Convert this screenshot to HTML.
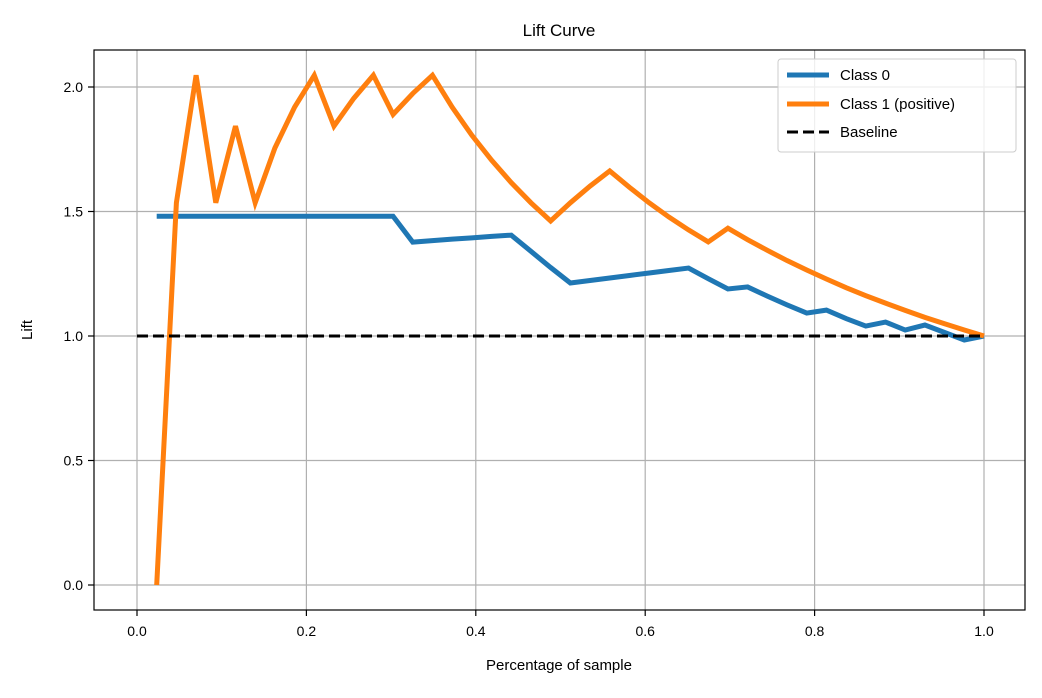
<!DOCTYPE html>
<html><head><meta charset="utf-8"><style>
body{margin:0;background:#fff;}
svg{font-family:"Liberation Sans","DejaVu Sans",sans-serif;}
</style></head><body>
<svg id="chart" width="1042" height="693" viewBox="0 0 1042 693">
<g id="grid"></g>
<g id="series"></g>
<rect x="94" y="50" width="931" height="560" fill="none" stroke="#000" stroke-width="1.2"/>
<g id="ticks"></g>
<text x="559" y="36" text-anchor="middle" font-size="17">Lift Curve</text>
<text x="559" y="670" text-anchor="middle" font-size="15">Percentage of sample</text>
<text x="32" y="330" text-anchor="middle" font-size="15" transform="rotate(-90 32 330)">Lift</text>
<g>
<rect x="778" y="59" width="238" height="93" rx="3" fill="#fff" fill-opacity="0.8" stroke="#ccc"/>
<line x1="787" y1="75" x2="829" y2="75" stroke="#1f77b4" stroke-width="5"/>
<text x="840" y="80" font-size="15">Class 0</text>
<line x1="787" y1="104" x2="829" y2="104" stroke="#ff7f0e" stroke-width="5"/>
<text x="840" y="109" font-size="15">Class 1 (positive)</text>
<line x1="787" y1="132" x2="829" y2="132" stroke="#000" stroke-width="3" stroke-dasharray="11,5"/>
<text x="840" y="137" font-size="15">Baseline</text>
</g>
</svg>
<script>
const xTicks=[0,0.2,0.4,0.6,0.8,1.0];
const xTickLabels=["0.0","0.2","0.4","0.6","0.8","1.0"];
const yTicks=[0,0.5,1.0,1.5,2.0];
const yTickLabels=["0.0","0.5","1.0","1.5","2.0"];
const nPoints=43;
const class1=[0,1.535,2.047,1.535,1.843,1.535,1.755,1.919,2.047,1.843,1.954,2.047,1.89,1.974,2.047,1.919,1.806,1.706,1.616,1.535,1.462,1.535,1.602,1.663,1.597,1.535,1.478,1.426,1.378,1.433,1.387,1.344,1.303,1.265,1.229,1.194,1.162,1.132,1.103,1.075,1.049,1.024,1.0];
const class0=[1.481,1.481,1.481,1.481,1.481,1.481,1.481,1.481,1.481,1.481,1.481,1.481,1.481,1.377,1.383,1.389,1.394,1.40,1.405,1.34,1.275,1.213,1.223,1.233,1.243,1.253,1.263,1.273,1.23,1.189,1.197,1.16,1.125,1.092,1.104,1.07,1.04,1.056,1.024,1.044,1.014,0.984,1.0];
const baseline=[[0,1],[1,1]];
const X=v=>137+v*847, Y=v=>585-v*249;
const NS="http://www.w3.org/2000/svg";
const grid=document.getElementById('grid'),ticks=document.getElementById('ticks'),series=document.getElementById('series');
function mk(tag,attrs,parent){const e=document.createElementNS(NS,tag);for(const k in attrs)e.setAttribute(k,attrs[k]);parent.appendChild(e);return e;}
xTicks.forEach((t,i)=>{
 const g=mk('line',{x1:X(t),x2:X(t),y1:50,y2:610,stroke:'#b0b0b0','stroke-width':1.2},grid);
 
 
 const tk=mk('line',{x1:X(t),x2:X(t),y1:610,y2:616,stroke:'#000','stroke-width':1.2},ticks);
 
 
 const tx=mk('text',{x:X(t),y:636,'text-anchor':'middle','font-size':14},ticks);
 tx.textContent=xTickLabels[i];
 
 
});
yTicks.forEach((t,i)=>{
 const g=mk('line',{x1:94,x2:1025,y1:Y(t),y2:Y(t),stroke:'#b0b0b0','stroke-width':1.2},grid);
 
 
 const tk=mk('line',{x1:88,x2:94,y1:Y(t),y2:Y(t),stroke:'#000','stroke-width':1.2},ticks);
 
 
 const tx=mk('text',{x:83,y:Y(t)+5,'text-anchor':'end','font-size':14},ticks);
 tx.textContent=yTickLabels[i];
 
 
});
function pts(arr){return arr.map((v,i)=>X((i+1)/nPoints)+','+Y(v)).join(' ');}
const b=mk('polyline',{points:baseline.map(p=>X(p[0])+','+Y(p[1])).join(' '),fill:'none',stroke:'#000','stroke-width':3,'stroke-dasharray':'11,5'},series);


const c0=mk('polyline',{points:pts(class0),fill:'none',stroke:'#1f77b4','stroke-width':5,'stroke-linejoin':'miter'},series);


const c1=mk('polyline',{points:pts(class1),fill:'none',stroke:'#ff7f0e','stroke-width':5,'stroke-linejoin':'miter'},series);


series.insertBefore(c0,b);series.insertBefore(c1,b);
</script>
</body></html>
